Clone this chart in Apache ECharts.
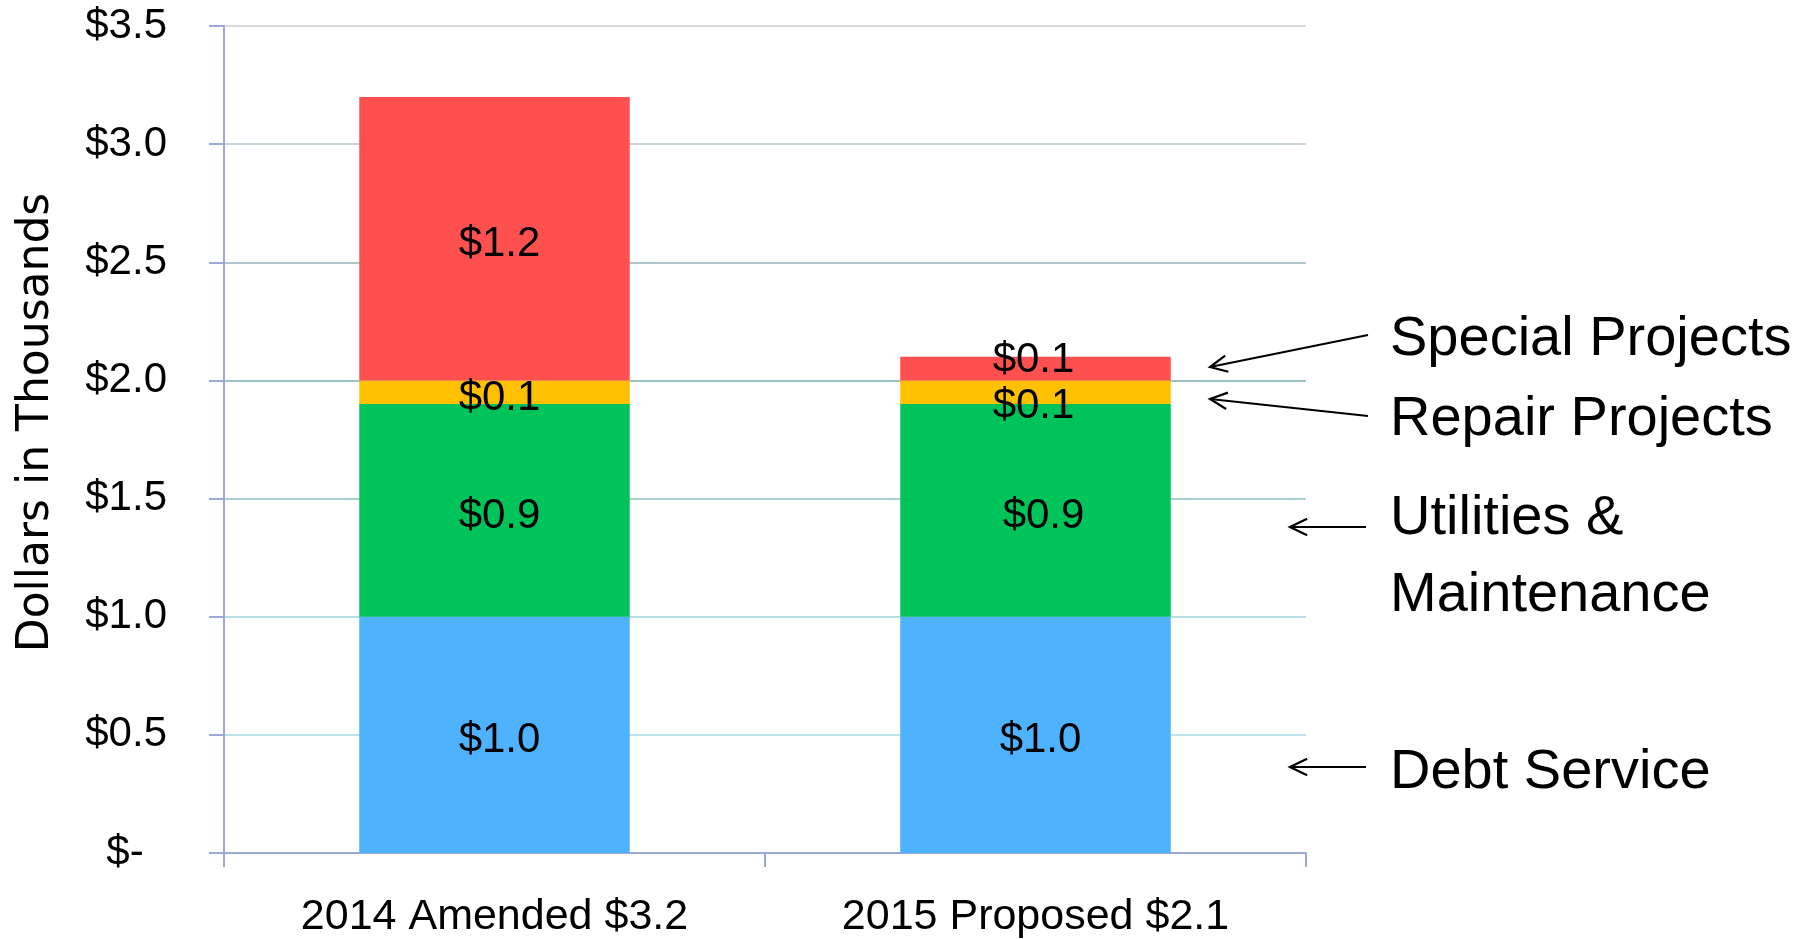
<!DOCTYPE html>
<html>
<head>
<meta charset="utf-8">
<title>Budget by category</title>
<script src="https://cdn.jsdelivr.net/npm/echarts@6/dist/echarts.min.js"></script>
<style>
    html, body { margin: 0; padding: 0; background: #fff; }
    #chart { width: 1808px; height: 939px; }
</style>
</head>
<body>
<div id="chart"></div>
<script>
// Chart data (dollars in thousands)
const categories = ['2014 Amended $3.2', '2015 Proposed $2.1'];
const debtService = [1.0, 1.0];
const utilities = [0.9, 0.9];
const repairProjects = [0.1, 0.1];
const specialProjects = [1.2, 0.1];
const yTicks = [0, 0.5, 1.0, 1.5, 2.0, 2.5, 3.0, 3.5];

// Callout labels on the right side
const calloutLabels = ['Special Projects', 'Repair Projects', 'Utilities &', 'Maintenance', 'Debt Service'];

const FONT = '"Liberation Sans", Arial, sans-serif';
const AXIS_COLOR = '#9CA9D6';

const chart = echarts.init(document.getElementById('chart'));

const money = v => '$' + v.toFixed(1);

/**
 * Build a bar series with a value label inside
 */
function stackSeries(name, values, color, labelOffsets) {
    return {
        name: name,
        type: 'bar',
        stack: 'total',
        barWidth: '50%',
        itemStyle: { color: color },
        label: {
            show: true,
            position: 'inside',
            offset: [5, 6],
            color: '#000',
            fontSize: 42,
            fontFamily: FONT,
            formatter: p => money(p.value),
        },
        data: values.map((v, i) => {
            const off = labelOffsets && labelOffsets[i];
            return off ? { value: v, label: { offset: off } } : v;
        }),
    };
}

/**
 * Arrow from (x1,y1) tail to (x2,y2) head, open chevron tip
 */
function arrow(x1, y1, x2, y2) {
    const ang = Math.atan2(y1 - y2, x1 - x2);
    const len = 19, spread = 0.45;
    const a = [x2 + len * Math.cos(ang - spread), y2 + len * Math.sin(ang - spread)];
    const b = [x2 + len * Math.cos(ang + spread), y2 + len * Math.sin(ang + spread)];
    const style = { stroke: '#000', lineWidth: 2.2, fill: null };
    return [
        { type: 'line', shape: { x1: x1, y1: y1, x2: x2, y2: y2 }, style: style, silent: true },
        { type: 'polyline', shape: { points: [a, [x2, y2], b] }, style: style, silent: true },
    ];
}

const calloutY = [344, 424, 523, 600, 777];
const graphics = [];
calloutLabels.forEach((t, i) => {
    graphics.push({
        type: 'text',
        left: 1390,
        top: calloutY[i] - 32,
        style: { text: t, fontSize: 56, fontFamily: FONT, fill: '#000' },
        silent: true,
    });
});
graphics.push(...arrow(1368, 335, 1210, 367));
graphics.push(...arrow(1368, 416, 1210, 399));
graphics.push(...arrow(1366, 527, 1290, 527));
graphics.push(...arrow(1366, 767, 1290, 767));

const option = {
    backgroundColor: '#fff',
    animation: false,
    grid: {
        left: 224,
        right: 502,
        top: 26,
        bottom: 86,
        containLabel: false,
    },
    xAxis: {
        type: 'category',
        data: categories,
        axisLine: { lineStyle: { color: AXIS_COLOR, width: 2 } },
        axisTick: { show: true, length: 14, lineStyle: { color: AXIS_COLOR, width: 2 } },
        axisLabel: {
            color: '#000',
            fontSize: 43,
            fontFamily: FONT,
            margin: 43,
        },
    },
    yAxis: {
        type: 'value',
        min: yTicks[0],
        max: yTicks[yTicks.length - 1],
        interval: 0.5,
        name: 'Dollars in Thousands',
        nameLocation: 'middle',
        nameGap: 165,
        nameTextStyle: {
            color: '#000',
            fontSize: 44,
            fontFamily: '"DejaVu Sans", sans-serif',
            padding: [0, 0, 0, 34],
        },
        axisLine: { show: true, lineStyle: { color: AXIS_COLOR, width: 2 } },
        axisTick: { show: true, length: 15, lineStyle: { color: AXIS_COLOR, width: 2 } },
        axisLabel: {
            color: '#000',
            fontSize: 42,
            fontFamily: FONT,
            margin: 57,
            padding: [4, 0, 0, 0],
            formatter: v => (v === 0 ? '$-  ' : money(v)),
        },
        splitLine: {
            lineStyle: {
                width: 2,
                color: ['#A9B6DA', '#BFE3E8', '#B7DFE3', '#A9CFD0', '#9FC2C4', '#AFC7CB', '#C9D4D6', '#DADADA'],
            },
        },
    },
    series: [
        stackSeries('Debt Service', debtService, '#4FB2FF'),
        stackSeries('Utilities & Maintenance', utilities, '#00C45A', [null, [8, 6]]),
        stackSeries('Repair Projects', repairProjects, '#FFC000', [null, [-2, 14]]),
        stackSeries('Special Projects', specialProjects, '#FF5050', [null, [-2, -8]]),
    ],
    graphic: graphics,
};

chart.setOption(option);
window.addEventListener('resize', () => chart.resize());
</script>
</body>
</html>
